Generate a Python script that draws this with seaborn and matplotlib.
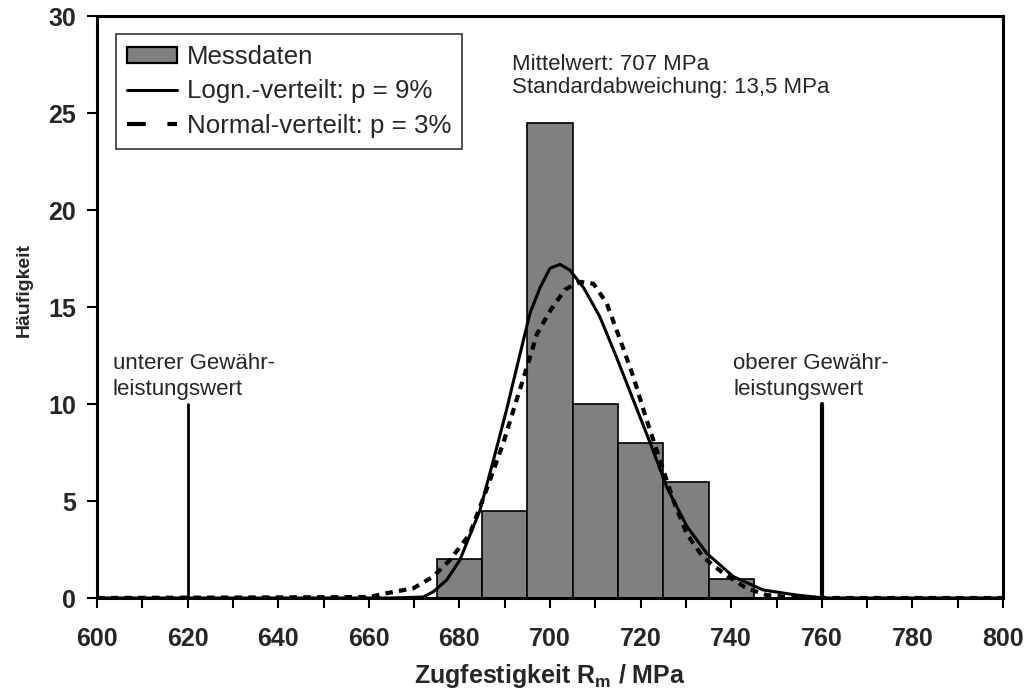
import numpy as np
import pandas as pd
import matplotlib
matplotlib.use("Agg")
import matplotlib.pyplot as plt
import seaborn as sns
from matplotlib.patches import Patch
from matplotlib.lines import Line2D
from matplotlib.ticker import MultipleLocator

# Histogram of measured tensile strength (class centres, counts)
bin_centers = [680, 690, 700, 710, 720, 730, 740]
counts = [2.0, 4.5, 24.5, 10.0, 8.0, 6.0, 1.0]

# Fitted log-normal distribution curve
logn_x = [600, 665, 672.0, 674.2, 677.2, 680.1, 684.5, 687.5, 690.4, 693.4, 695.6, 697.8,
          700.0, 702.2, 704.4, 707.4, 711.0, 714.7, 718.4, 722.1, 725.8, 730.2,
          734.6, 740.5, 747.1, 754.5, 760.5, 800]
logn_y = [0.0, 0.0, 0.05, 0.32, 0.93, 1.96, 4.5, 7.1, 9.7, 12.6, 14.7, 16.0,
          17.0, 17.2, 16.9, 16.0, 14.5, 12.4, 10.2, 8.0, 5.7, 3.7,
          2.3, 1.1, 0.41, 0.15, 0.0, 0.0]

# Fitted normal distribution curve
norm_x = [600, 660, 664.0, 669.8, 674.2, 677.9, 682.3, 686.0, 689.7, 692.6, 694.9, 697.1,
          700.0, 703.3, 706.6, 709.6, 712.5, 715.5, 718.4, 721.3, 724.3, 727.2,
          730.2, 733.8, 738.3, 743.4, 747.8, 755.0, 800]
norm_y = [0.0, 0.05, 0.25, 0.5, 1.1, 1.96, 3.3, 5.6, 8.0, 10.2, 11.9, 13.6,
          14.8, 15.9, 16.3, 16.2, 15.2, 13.3, 11.4, 9.2, 7.1, 5.05,
          3.3, 2.1, 1.27, 0.5, 0.15, 0.0, 0.0]

# Warranty limits
limit_values = [620, 760]
limit_height = 10

sns.set_style("white")
plt.rcParams["font.family"] = ["Liberation Sans", "DejaVu Sans"]
plt.rcParams["mathtext.fontset"] = "custom"
plt.rcParams["mathtext.rm"] = "Liberation Sans"
plt.rcParams["mathtext.bf"] = "Liberation Sans:bold"

fig = plt.figure(figsize=(10.3, 7.0), dpi=100)
ax = fig.add_axes([0.0942, 0.1457, 0.8796, 0.8313])

hist_df = pd.DataFrame({"x": bin_centers, "n": counts})
sns.histplot(data=hist_df, x="x", weights="n", binwidth=10, binrange=(675, 745),
             color="#808080", edgecolor="black", linewidth=1.2, alpha=1.0, ax=ax)

logn_df = pd.DataFrame({"x": logn_x, "y": logn_y})
norm_df = pd.DataFrame({"x": norm_x, "y": norm_y})
sns.lineplot(data=norm_df, x="x", y="y", color="black", linewidth=3.0, ax=ax,
             linestyle=(0, (1.8, 1.5)), sort=False)
sns.lineplot(data=logn_df, x="x", y="y", color="black", linewidth=2.2, ax=ax,
             sort=False, solid_joinstyle="round")

ax.plot([limit_values[0]] * 2, [0, limit_height], color="black", linewidth=2.0)
ax.plot([limit_values[1]] * 2, [0, limit_height], color="black", linewidth=3.0)

# multi-line texts: baseline alignment refers to the last line
ax.text(603.5, 10.46, "unterer Gewähr-\nleistungswert", fontsize=16, va="baseline",
        ha="left", linespacing=1.35)
ax.text(740.5, 10.46, "oberer Gewähr-\nleistungswert", fontsize=16, va="baseline",
        ha="left", linespacing=1.35)
ax.text(691.5, 26.03, "Mittelwert: 707 MPa\nStandardabweichung: 13,5 MPa",
        fontsize=16, va="baseline", ha="left", linespacing=1.12)

ax.set_xlim(600, 800)
ax.set_ylim(0, 30)
ax.xaxis.set_major_locator(MultipleLocator(20))
ax.xaxis.set_minor_locator(MultipleLocator(10))
ax.yaxis.set_major_locator(MultipleLocator(5))
ax.tick_params(axis="both", which="both", direction="out", length=7, width=1.5,
               color="black", bottom=True, left=True)
ax.tick_params(axis="x", which="major", pad=14)
ax.tick_params(axis="y", which="major", pad=8)
for lbl in ax.get_xticklabels() + ax.get_yticklabels():
    lbl.set_fontsize(18)
    lbl.set_fontweight("bold")

for sp in ax.spines.values():
    sp.set_linewidth(2.2)
    sp.set_color("black")
    sp.set_visible(True)

ax.set_xlabel(r"Zugfestigkeit R$_\mathbf{m}$ / MPa", fontsize=18, fontweight="bold",
              labelpad=8)
ax.set_ylabel("Häufigkeit", fontsize=14, fontweight="bold")
ax.yaxis.set_label_coords(-0.0706, 0.529)

handles = [
    Patch(facecolor="#808080", edgecolor="black", linewidth=1.6),
    Line2D([], [], color="black", linewidth=2.2),
    Line2D([], [], color="black", linewidth=3.0, linestyle=(0, (4.5, 5.2))),
]
labels = ["Messdaten", "Logn.-verteilt: p = 9%", "Normal-verteilt: p = 3%"]
leg = ax.legend(handles, labels, loc="upper left", bbox_to_anchor=(0.021, 0.969),
                borderaxespad=0, fontsize=18.6, frameon=True, fancybox=False,
                handlelength=1.95, handletextpad=0.36, labelspacing=0.4,
                borderpad=0.42, handleheight=0.55)
leg.get_frame().set_edgecolor("black")
leg.get_frame().set_linewidth(1.2)

fig.savefig("out.png", dpi=100, facecolor="white")
